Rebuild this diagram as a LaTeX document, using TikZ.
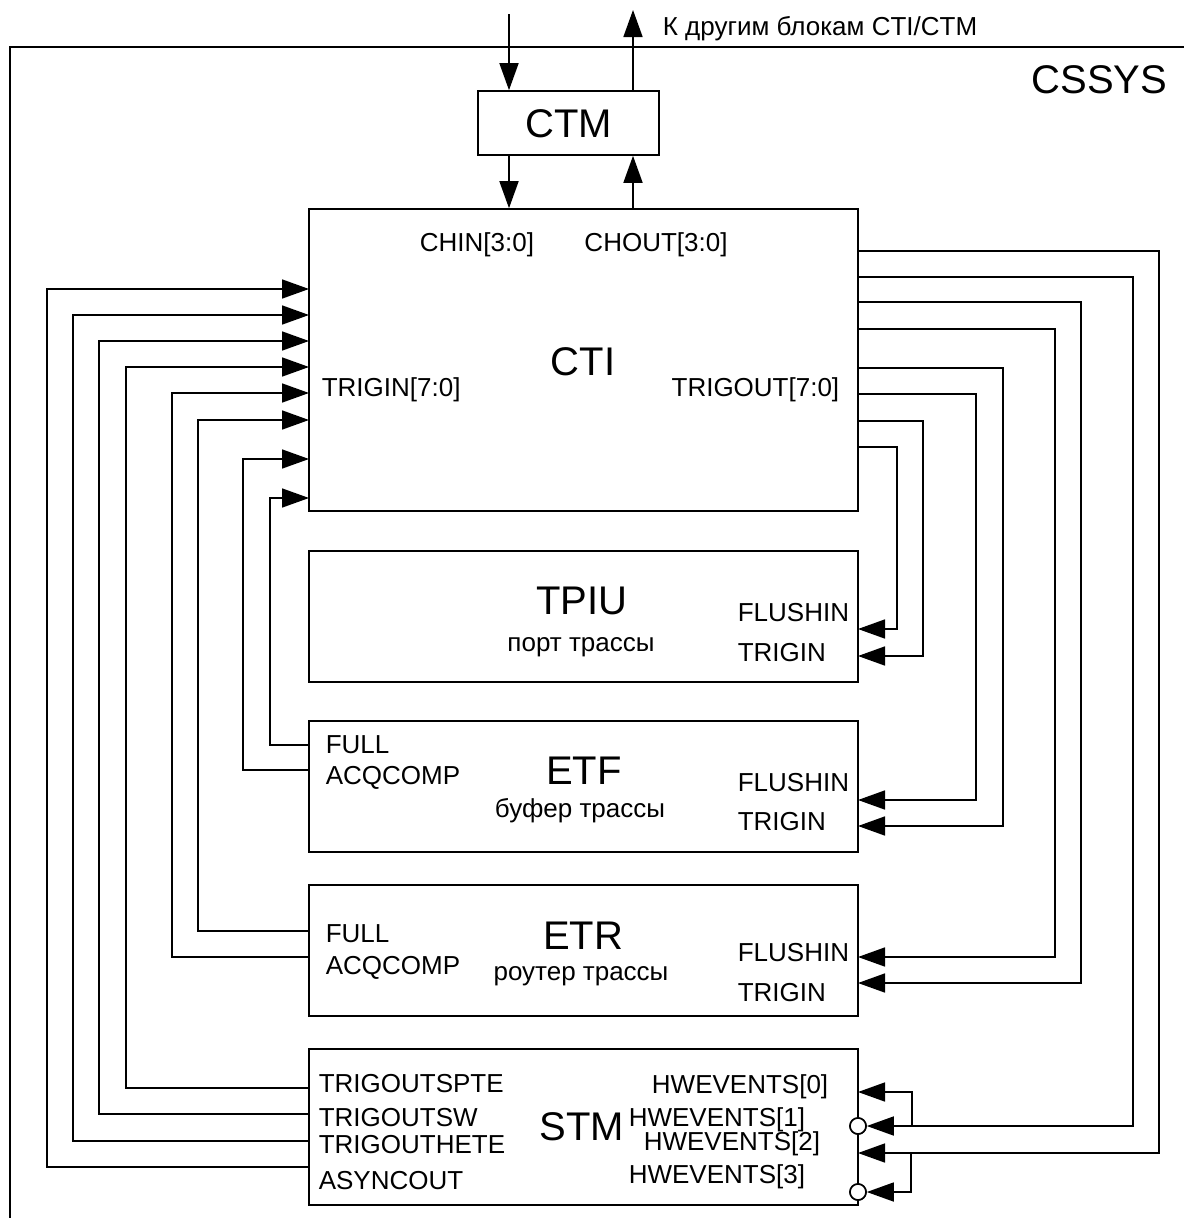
\documentclass[tikz,border=0pt]{standalone}
\usepackage{fontspec}
\setmainfont{Liberation Sans}
\usetikzlibrary{arrows.meta,positioning}

\begin{document}
\begin{tikzpicture}[x=1pt,y=-1pt,line width=1.6pt,
	block/.style={draw,minimum width=549pt,inner sep=0pt},
	big/.style={font=\fontsize{40}{44}\selectfont,inner sep=0pt,text height=28.6pt,text depth=0pt},
	lbl/.style={font=\fontsize{26}{30}\selectfont,inner sep=0pt,text height=18.6pt,text depth=0pt},
	sig/.style={-{Triangle[length=27pt,width=19pt]}},
	bubble/.style={draw,circle,fill=white,minimum size=16pt,inner sep=0pt}]
		\useasboundingbox (0,0) rectangle (1184,1218);
		% CSSYS frame
		\draw (10,1218) -- (10,47) -- (1184,47);
		\node[big,anchor=east] (cssys) at (1168,79) {CSSYS};
		% blocks
		\node[draw,minimum width=181pt,minimum height=64pt,big] (ctm) at (568.5,123) {CTM};
		\node[block,minimum height=302pt] (cti) at (583.5,360) {};
		\node[block,minimum height=131pt] (tpiu) at (583.5,616.5) {};
		\node[block,minimum height=131pt] (etf) at (583.5,786.5) {};
		\node[block,minimum height=131pt] (etr) at (583.5,950.5) {};
		\node[block,minimum height=156pt] (stm) at (583.5,1127) {};
		% CTI texts
		\node[big] (ctiname) at (583,361) {CTI};
		\node[lbl] (chin) at (477,242) {CHIN[3:0]};
		\node[lbl] (chout) at (656,242) {CHOUT[3:0]};
		\node[lbl,anchor=west] (trigin) at (321,387) {TRIGIN[7:0]};
		\node[lbl,anchor=east] (trigout) at (840,387) {TRIGOUT[7:0]};
		% TPIU texts
		\node[big] (tpiuname) at (582,600) {TPIU};
		\node[lbl] (tpiudesc) at (581,642) {порт трассы};
		\node[lbl,anchor=west] (tpiuflushL) at (737,612) {FLUSHIN};
		\node[lbl,anchor=west] (tpiutrigL) at (737,652) {TRIGIN};
		% ETF texts
		\node[big] (etfname) at (584,770) {ETF};
		\node[lbl] (etfdesc) at (580,808) {буфер трассы};
		\node[lbl,anchor=west] (etffullL) at (325,744) {FULL};
		\node[lbl,anchor=west] (etfacqL) at (325,775) {ACQCOMP};
		\node[lbl,anchor=west] (etfflushL) at (737,782) {FLUSHIN};
		\node[lbl,anchor=west] (etftrigL) at (737,821) {TRIGIN};
		% ETR texts
		\node[big] (etrname) at (583,935) {ETR};
		\node[lbl] (etrdesc) at (581,971) {роутер трассы};
		\node[lbl,anchor=west] (etrfullL) at (325,933) {FULL};
		\node[lbl,anchor=west] (etracqL) at (325,965) {ACQCOMP};
		\node[lbl,anchor=west] (etrflushL) at (737,952) {FLUSHIN};
		\node[lbl,anchor=west] (etrtrigL) at (737,992) {TRIGIN};
		% STM texts
		\node[big] (stmname) at (582,1126) {STM};
		\node[lbl,anchor=west] (spteL) at (318,1083) {TRIGOUTSPTE};
		\node[lbl,anchor=west] (swL) at (318,1117) {TRIGOUTSW};
		\node[lbl,anchor=west] (heteL) at (318,1144) {TRIGOUTHETE};
		\node[lbl,anchor=west] (asyncL) at (318,1180) {ASYNCOUT};
		\node[lbl,anchor=east] (hw0L) at (829,1084) {HWEVENTS[0]};
		\node[lbl,anchor=west] (hw1L) at (628,1117) {HWEVENTS[1]};
		\node[lbl,anchor=west] (hw2L) at (643,1141) {HWEVENTS[2]};
		\node[lbl,anchor=west] (hw3L) at (628,1174) {HWEVENTS[3]};
		% ports
		\foreach \y [count=\k] in {289,315,341,367,393,420,459,498}
			\coordinate (trigin\k) at (309,\y);
		\foreach \y [count=\k] in {251,277,302,329,368,394,421,447}
			\coordinate (trigout\k) at (858,\y);
		\coordinate (etffull) at (309,745);
		\coordinate (etfacq) at (309,770);
		\coordinate (etrfull) at (309,931);
		\coordinate (etracq) at (309,957);
		\coordinate (spteport) at (309,1088);
		\coordinate (swport) at (309,1114);
		\coordinate (heteport) at (309,1141);
		\coordinate (asyncport) at (309,1167);
		\coordinate (tpiuflush) at (858,629);
		\coordinate (tpiutrig) at (858,656);
		\coordinate (etfflush) at (858,800);
		\coordinate (etftrig) at (858,826);
		\coordinate (etrflush) at (858,957);
		\coordinate (etrtrig) at (858,983);
		\coordinate (hw0) at (858,1092);
		\coordinate (hw2) at (858,1153);
		% CTM channels
		\coordinate (extin) at (509,14);
		\coordinate (extout) at (633,10);
		\draw[sig] (extin) -- (extin |- ctm.north);
		\draw[sig] (extout |- ctm.north) -- (extout);
		\draw[sig] (extin |- ctm.south) -- (extin |- cti.north);
		\draw[sig] (extout |- cti.north) -- (extout |- ctm.south);
		\node[lbl,anchor=west] (extlbl) at (662,26) {К другим блокам CTI/CTM};
		% triggers into CTI
		\foreach \src/\x/\k in {asyncport/47/1,heteport/73/2,swport/99/3,spteport/126/4,etracq/172/5,etrfull/198/6,etfacq/243/7,etffull/270/8}
		{
			\coordinate (vx) at (\x,0);
			\draw[sig] (\src) -- (\src -| vx) |- (trigin\k);
		}
		% triggers out of CTI
		\node[bubble] (inv1) at (858,1126) {};
		\node[bubble] (inv2) at (858,1192) {};
		\foreach \k/\x/\dst in {1/1159/hw2,2/1133/inv1.east,3/1081/etrtrig,4/1055/etrflush,5/1003/etftrig,6/976/etfflush,7/923/tpiutrig,8/897/tpiuflush}
		{
			\coordinate (vx) at (\x,0);
			\draw[sig] (trigout\k) -- (trigout\k -| vx) |- (\dst);
		}
		\path (inv1.east) ++(45,0) coordinate (split1);
		\draw[sig] (split1) |- (hw0);
		\path (hw2) ++(53,0) coordinate (split2);
		\draw[sig] (split2) |- (inv2.east);
		\node[bubble] (inv1b) at (inv1) {};
		\node[bubble] (inv2b) at (inv2) {};
\end{tikzpicture}
\end{document}
